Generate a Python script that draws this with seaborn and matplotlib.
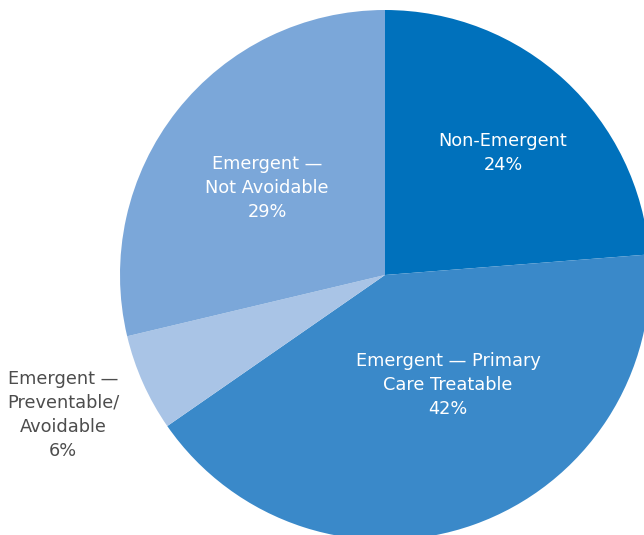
import matplotlib
matplotlib.use("Agg")
import matplotlib.pyplot as plt
import seaborn as sns
import pandas as pd

# Share of ED visits by classification (percent), drawn clockwise from 12 o'clock
categories = [
    "Non-Emergent",
    "Emergent \u2014 Primary\nCare Treatable",
    "Emergent \u2014\nPreventable/\nAvoidable",
    "Emergent \u2014\nNot Avoidable",
]
shares = [24, 42, 6, 29]
slice_colors = ["#0071BC", "#3A89C9", "#A9C4E6", "#7BA7D9"]

# Label anchor points (pie radius = 1) and text colour per slice
label_xy = [(0.445, 0.46), (0.238, -0.415), (-1.215, -0.528), (-0.445, 0.328)]
label_colors = ["white", "white", "#4D4D4D", "white"]

df = pd.DataFrame({"category": categories, "share": shares})

sns.set_theme(style="white")
plt.rcParams["font.family"] = ["DejaVu Sans"]

fig = plt.figure(figsize=(6.44, 5.35), dpi=100)
ax = fig.add_axes([0, 0, 1, 1])

palette = sns.color_palette(slice_colors)
ax.pie(
    df["share"],
    colors=palette,
    startangle=90,
    counterclock=False,
    radius=1.0,
    wedgeprops=dict(linewidth=0),
)

for (x, y), text, share, col in zip(label_xy, df["category"], df["share"], label_colors):
    ax.text(x, y, f"{text}\n{share}%", ha="center", va="center",
            color=col, fontsize=12.8, linespacing=1.42)

# Frame the pie so its centre and radius sit where the layout expects
ax.set_aspect("auto")
ax.set_xlim(-385 / 265, (644 - 385) / 265)
ax.set_ylim((275 - 535) / 265, 275 / 265)
ax.axis("off")

fig.savefig("out.png", dpi=100, facecolor="white")
